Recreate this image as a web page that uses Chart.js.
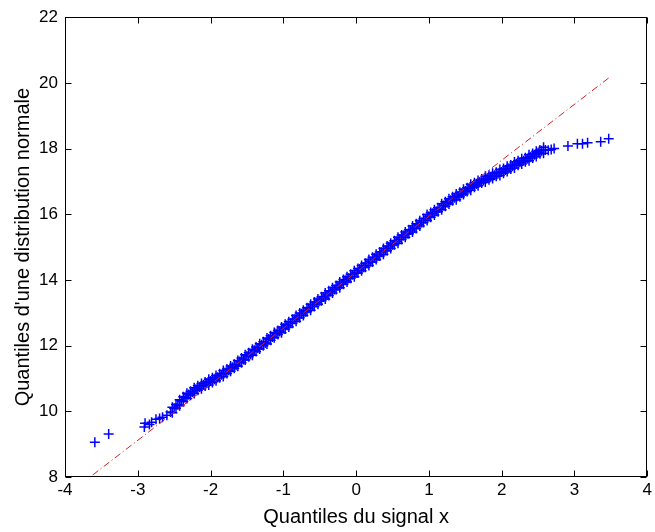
<!DOCTYPE html>
<html>
<head>
<meta charset="utf-8">
<script src="https://cdn.jsdelivr.net/npm/chart.js@4.4.1/dist/chart.umd.min.js"></script>
<style>
  html, body { margin: 0; padding: 0; background: #fff; }
  #wrap { width: 655px; height: 532px; }
</style>
</head>
<body>
<div id="wrap"><canvas id="qq" width="655" height="532"></canvas></div>
<script>
// quantiles du signal (x) et quantiles de la normale (y)
const tailLowX = [-3.59, -3.40, -2.91, -2.90, -2.84, -2.81, -2.75, -2.70, -2.66, -2.60];
const tailLowY = [9.06, 9.31, 9.52, 9.64, 9.60, 9.67, 9.76, 9.78, 9.82, 9.88];

const bandX = [
  -2.55, -2.50, -2.45, -2.40, -2.35, -2.30, -2.25, -2.20, -2.15, -2.10,
  -2.05, -2.00, -1.95, -1.90, -1.85, -1.80, -1.75, -1.70, -1.65, -1.60,
  -1.55, -1.50, -1.45, -1.40, -1.35, -1.30, -1.25, -1.20, -1.15, -1.10,
  -1.05, -1.00, -0.95, -0.90, -0.85, -0.80, -0.75, -0.70, -0.65, -0.60,
  -0.55, -0.50, -0.45, -0.40, -0.35, -0.30, -0.25, -0.20, -0.15, -0.10,
  -0.05, 0.00, 0.05, 0.10, 0.15, 0.20, 0.25, 0.30, 0.35, 0.40,
  0.45, 0.50, 0.55, 0.60, 0.65, 0.70, 0.75, 0.80, 0.85, 0.90,
  0.95, 1.00, 1.05, 1.10, 1.15, 1.20, 1.25, 1.30, 1.35, 1.40,
  1.45, 1.50, 1.55, 1.60, 1.65, 1.70, 1.75, 1.80, 1.85, 1.90,
  1.95, 2.00, 2.05, 2.10, 2.15, 2.20, 2.25, 2.30, 2.35, 2.40,
  2.45, 2.50, 2.55, 2.60
];
const bandY = [
  9.98, 10.09, 10.20, 10.32, 10.42, 10.51, 10.59, 10.67, 10.74, 10.80,
  10.86, 10.92, 10.98, 11.04, 11.11, 11.18, 11.25, 11.34, 11.40, 11.52,
  11.58, 11.69, 11.74, 11.86, 11.92, 12.03, 12.08, 12.20, 12.26, 12.37,
  12.43, 12.53, 12.62, 12.68, 12.80, 12.86, 12.97, 13.03, 13.14, 13.20,
  13.31, 13.37, 13.48, 13.54, 13.65, 13.71, 13.82, 13.88, 13.99, 14.05,
  14.16, 14.22, 14.33, 14.39, 14.50, 14.56, 14.67, 14.73, 14.84, 14.90,
  15.01, 15.07, 15.18, 15.24, 15.35, 15.41, 15.52, 15.58, 15.69, 15.75,
  15.86, 15.93, 16.03, 16.09, 16.19, 16.27, 16.35, 16.43, 16.50, 16.56,
  16.64, 16.71, 16.78, 16.86, 16.92, 16.98, 17.03, 17.10, 17.14, 17.19,
  17.24, 17.29, 17.35, 17.40, 17.47, 17.53, 17.58, 17.63, 17.69, 17.75,
  17.81, 17.87, 17.93, 17.96
];

// points intercalés (demi-pas), un peu au-dessus / au-dessous de la bande
const halfX = [
  -2.525, -2.475, -2.425, -2.375, -2.325, -2.275, -2.225, -2.175, -2.125, -2.075,
  -2.025, -1.975, -1.925, -1.875, -1.825, -1.775, -1.725, -1.675, -1.625, -1.575,
  -1.525, -1.475, -1.425, -1.375, -1.325, -1.275, -1.225, -1.175, -1.125, -1.075,
  -1.025, -0.975, -0.925, -0.875, -0.825, -0.775, -0.725, -0.675, -0.625, -0.575,
  -0.525, -0.475, -0.425, -0.375, -0.325, -0.275, -0.225, -0.175, -0.125, -0.075,
  -0.025, 0.025, 0.075, 0.125, 0.175, 0.225, 0.275, 0.325, 0.375, 0.425,
  0.475, 0.525, 0.575, 0.625, 0.675, 0.725, 0.775, 0.825, 0.875, 0.925,
  0.975, 1.025, 1.075, 1.125, 1.175, 1.225, 1.275, 1.325, 1.375, 1.425,
  1.475, 1.525, 1.575, 1.625, 1.675, 1.725, 1.775, 1.825, 1.875, 1.925,
  1.975, 2.025, 2.075, 2.125, 2.175, 2.225, 2.275, 2.325, 2.375, 2.425,
  2.475, 2.525, 2.575
];
const halfUpY = [
  10.12, 10.09, 10.17, 10.44, 10.55, 10.49, 10.54, 10.78, 10.85, 10.77,
  10.80, 11.02, 11.09, 11.02, 11.06, 11.29, 11.38, 11.31, 11.37, 11.62,
  11.72, 11.66, 11.71, 11.96, 12.06, 12.00, 12.05, 12.30, 12.40, 12.34,
  12.39, 12.65, 12.73, 12.68, 12.74, 12.99, 13.08, 13.03, 13.08, 13.33,
  13.42, 13.37, 13.42, 13.67, 13.76, 13.71, 13.76, 14.01, 14.10, 14.05,
  14.10, 14.35, 14.44, 14.39, 14.44, 14.69, 14.78, 14.73, 14.78, 15.03,
  15.12, 15.07, 15.12, 15.37, 15.46, 15.41, 15.46, 15.71, 15.80, 15.75,
  15.81, 16.05, 16.14, 16.08, 16.14, 16.38, 16.47, 16.41, 16.44, 16.67,
  16.76, 16.69, 16.73, 16.96, 17.03, 16.95, 16.98, 17.19, 17.25, 17.16,
  17.18, 17.39, 17.46, 17.38, 17.41, 17.63, 17.69, 17.60, 17.63, 17.85,
  17.92, 17.84, 17.86
];
const halfDownY = [
  9.96, 10.21, 10.35, 10.30, 10.39, 10.61, 10.72, 10.64, 10.69, 10.89,
  10.98, 10.88, 10.93, 11.14, 11.24, 11.15, 11.22, 11.43, 11.55, 11.48,
  11.56, 11.78, 11.89, 11.82, 11.90, 12.12, 12.23, 12.16, 12.24, 12.46,
  12.57, 12.51, 12.57, 12.80, 12.92, 12.85, 12.92, 13.15, 13.26, 13.19,
  13.26, 13.49, 13.60, 13.53, 13.60, 13.83, 13.94, 13.87, 13.94, 14.17,
  14.28, 14.21, 14.28, 14.51, 14.62, 14.55, 14.62, 14.85, 14.96, 14.89,
  14.96, 15.19, 15.30, 15.23, 15.30, 15.53, 15.64, 15.57, 15.64, 15.87,
  15.99, 15.91, 15.98, 16.20, 16.32, 16.24, 16.31, 16.53, 16.62, 16.53,
  16.60, 16.81, 16.91, 16.82, 16.87, 17.07, 17.16, 17.05, 17.09, 17.28,
  17.36, 17.25, 17.30, 17.50, 17.59, 17.49, 17.53, 17.72, 17.81, 17.71,
  17.76, 17.96, 18.04
];

const tailHighX = [2.64, 2.68, 2.72, 2.91, 3.04, 3.11, 3.18, 3.36, 3.47];
const tailHighY = [17.95, 17.97, 18.00, 18.08, 18.15, 18.15, 18.18, 18.21, 18.30];

// droite de référence (tiret-point rouge)
const refX = [-3.62, 3.47];
const refY = [8.06, 20.15];

const xTicks = { min: -4, max: 4, step: 1 };
const yTicks = { min: 8, max: 22, step: 2 };

const toPts = (xs, ys) => xs.map((x, i) => ({ x: x, y: ys[i] }));
const qqPoints = [].concat(
  toPts(tailLowX, tailLowY),
  toPts(bandX, bandY),
  toPts(halfX, halfUpY),
  toPts(halfX, halfDownY),
  toPts(tailHighX, tailHighY)
);

// cadre complet + graduations vers l'intérieur (style Matlab)
const boxPlugin = {
  id: 'boxTicks',
  afterDatasetsDraw(chart) {
    const { ctx, chartArea: a, scales } = chart;
    const L = Math.round(a.left) + 0.5, R = Math.round(a.right) - 0.5;
    const T = Math.round(a.top) + 0.5, B = Math.round(a.bottom) - 0.5;
    ctx.save();
    ctx.strokeStyle = '#000';
    ctx.lineWidth = 1;
    ctx.strokeRect(L, T, R - L, B - T);
    ctx.beginPath();
    scales.x.ticks.forEach(t => {
      const px = Math.round(scales.x.getPixelForValue(t.value)) + 0.5;
      ctx.moveTo(px, B); ctx.lineTo(px, B - 6);
      ctx.moveTo(px, T); ctx.lineTo(px, T + 6);
    });
    scales.y.ticks.forEach(t => {
      const py = Math.round(scales.y.getPixelForValue(t.value)) + 0.5;
      ctx.moveTo(L, py); ctx.lineTo(L + 6, py);
      ctx.moveTo(R, py); ctx.lineTo(R - 6, py);
    });
    ctx.stroke();
    ctx.restore();
  }
};

const tickFont = { family: '"Liberation Sans", Arial, sans-serif', size: 17 };
const titleFont = { family: '"Liberation Sans", Arial, sans-serif', size: 20 };

new Chart(document.getElementById('qq').getContext('2d'), {
  type: 'scatter',
  data: {
    datasets: [
      {
        type: 'line',
        data: toPts(refX, refY),
        borderColor: '#d42020',
        borderWidth: 1,
        borderDash: [7, 3, 1, 3],
        pointRadius: 0,
        fill: false
      },
      {
        data: qqPoints,
        pointStyle: 'cross',
        pointRadius: 5,
        borderColor: '#0000ff',
        backgroundColor: '#0000ff',
        borderWidth: 1.5
      }
    ]
  },
  options: {
    responsive: false,
    animation: false,
    devicePixelRatio: 1,
    layout: { padding: { top: 15, right: 4, left: 0, bottom: 0 } },
    plugins: { legend: { display: false }, tooltip: { enabled: false } },
    scales: {
      x: {
        type: 'linear',
        min: xTicks.min, max: xTicks.max,
        ticks: { stepSize: xTicks.step, color: '#000', font: tickFont, padding: 3 },
        grid: { display: true, drawOnChartArea: false, drawTicks: false },
        border: { display: false },
        title: { display: true, text: 'Quantiles du signal x', color: '#000', font: titleFont, padding: { top: 0, bottom: 3 } },
        afterFit(s) { s.height = 55; }
      },
      y: {
        type: 'linear',
        min: yTicks.min, max: yTicks.max,
        ticks: { stepSize: yTicks.step, color: '#000', font: tickFont, padding: 7 },
        grid: { display: true, drawOnChartArea: false, drawTicks: false },
        border: { display: false },
        title: { display: true, text: "Quantiles d'une distribution normale", color: '#000', font: titleFont, padding: { top: 11, bottom: 0 } },
        afterFit(s) { s.width = 65; }
      }
    }
  },
  plugins: [boxPlugin]
});
</script>
</body>
</html>
